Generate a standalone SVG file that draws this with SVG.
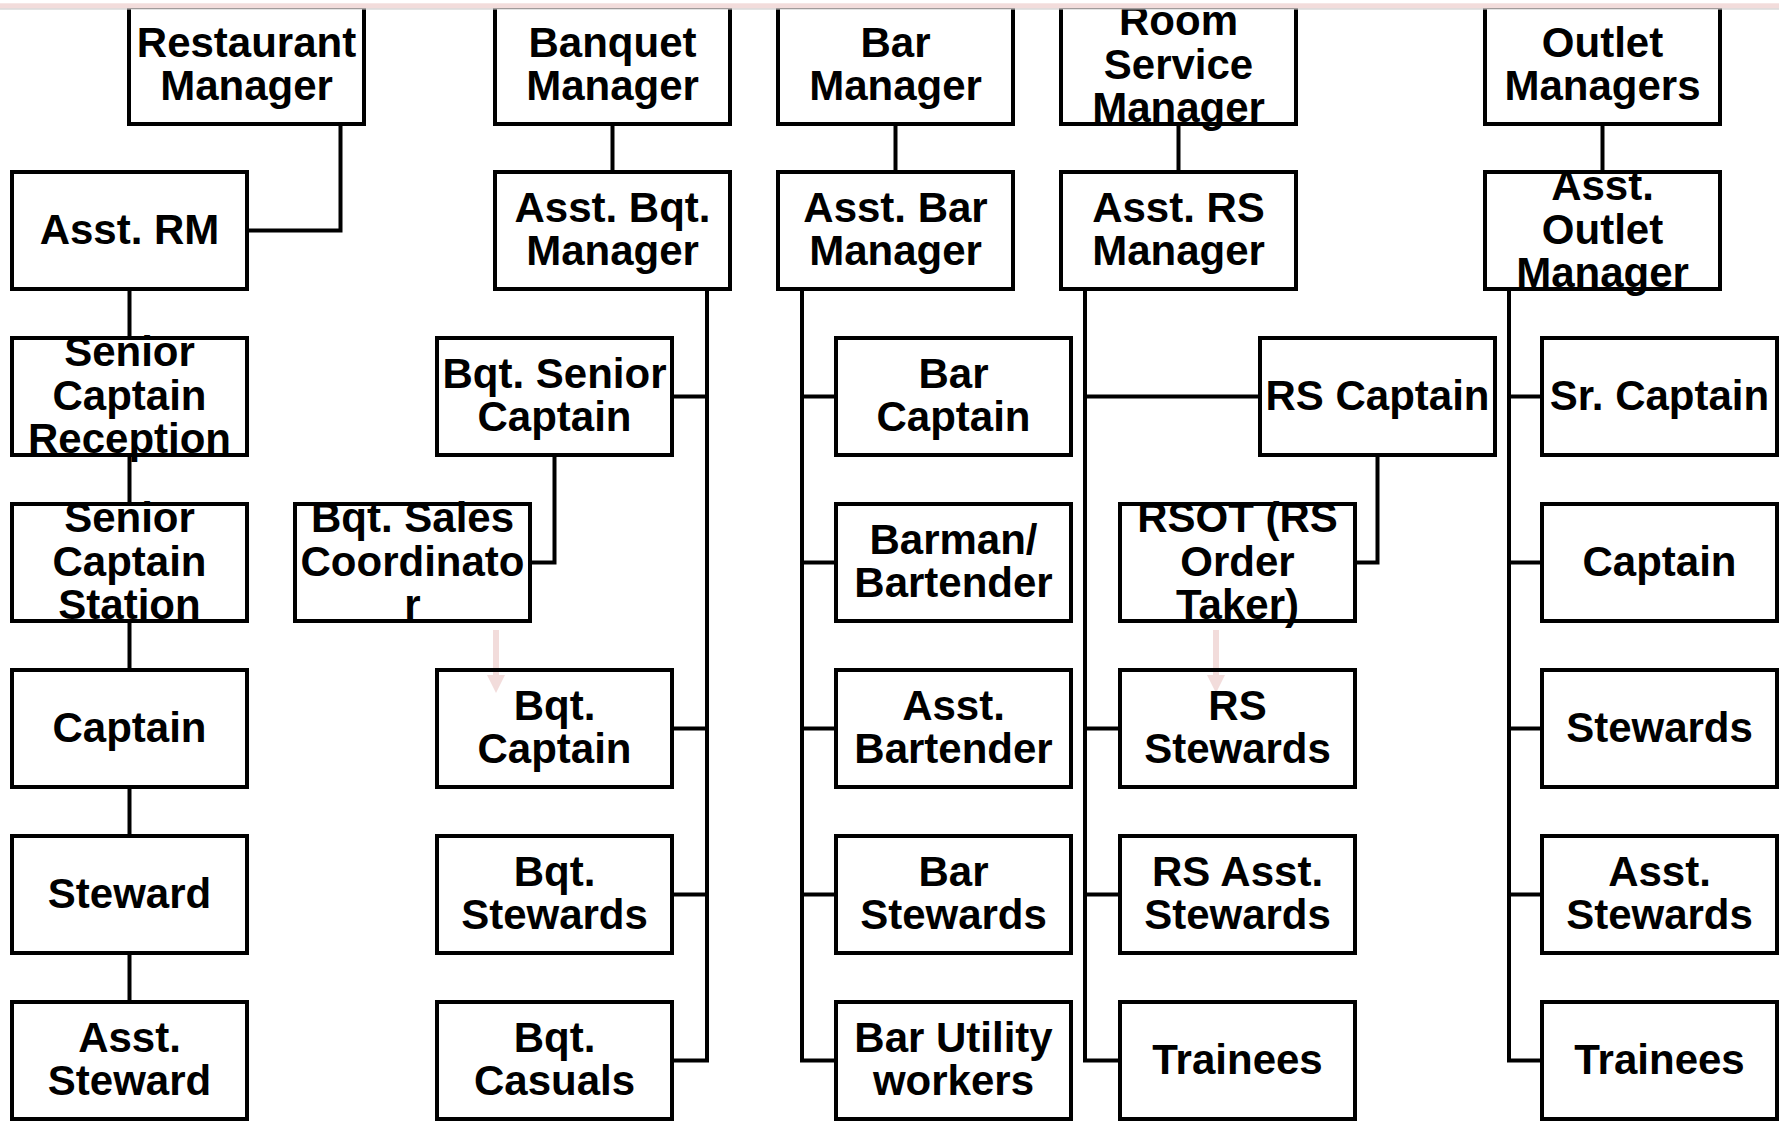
<svg xmlns="http://www.w3.org/2000/svg" width="1779" height="1122" viewBox="0 0 1779 1122">
<style>
.box{fill:none;stroke:#000;stroke-width:4;stroke-linejoin:miter}
.ln{fill:none;stroke:#000;stroke-width:4;stroke-linejoin:miter}
.t{font-family:"Liberation Sans",Arial,sans-serif;font-weight:bold;font-size:42px;fill:#000;text-anchor:middle}
.pk{fill:#f2dcdb}
</style>
<rect x="0" y="0" width="1779" height="1122" fill="#fff"/>
<g id="faint-arrows">
<rect class="pk" x="493" y="630" width="6" height="46"/>
<polygon class="pk" points="487,675 505,675 496,693"/>
<rect class="pk" x="1213" y="630" width="6" height="46"/>
<polygon class="pk" points="1207,675 1225,675 1216,693"/>
</g>
<g id="connectors">
<polyline class="ln" points="340.5,124 340.5,230.5 247,230.5"/>
<line class="ln" x1="129.5" y1="289" x2="129.5" y2="338"/>
<line class="ln" x1="129.5" y1="455" x2="129.5" y2="504"/>
<line class="ln" x1="129.5" y1="621" x2="129.5" y2="670"/>
<line class="ln" x1="129.5" y1="787" x2="129.5" y2="836"/>
<line class="ln" x1="129.5" y1="953" x2="129.5" y2="1002"/>
<line class="ln" x1="612.5" y1="124" x2="612.5" y2="172"/>
<polyline class="ln" points="707,289 707,1060.5 672,1060.5"/>
<line class="ln" x1="672" y1="396.5" x2="707" y2="396.5"/>
<line class="ln" x1="672" y1="728.5" x2="707" y2="728.5"/>
<line class="ln" x1="672" y1="894.5" x2="707" y2="894.5"/>
<polyline class="ln" points="554.5,455 554.5,562.5 530,562.5"/>
<line class="ln" x1="895.5" y1="124" x2="895.5" y2="172"/>
<polyline class="ln" points="802,289 802,1060.5 836,1060.5"/>
<line class="ln" x1="802" y1="396.5" x2="836" y2="396.5"/>
<line class="ln" x1="802" y1="562.5" x2="836" y2="562.5"/>
<line class="ln" x1="802" y1="728.5" x2="836" y2="728.5"/>
<line class="ln" x1="802" y1="894.5" x2="836" y2="894.5"/>
<line class="ln" x1="1178.5" y1="124" x2="1178.5" y2="172"/>
<polyline class="ln" points="1085,289 1085,1060.5 1120,1060.5"/>
<line class="ln" x1="1085" y1="396.5" x2="1260" y2="396.5"/>
<line class="ln" x1="1085" y1="728.5" x2="1120" y2="728.5"/>
<line class="ln" x1="1085" y1="894.5" x2="1120" y2="894.5"/>
<polyline class="ln" points="1377.5,455 1377.5,562.5 1355,562.5"/>
<line class="ln" x1="1602.5" y1="124" x2="1602.5" y2="172"/>
<polyline class="ln" points="1509,289 1509,1060.5 1542,1060.5"/>
<line class="ln" x1="1509" y1="396.5" x2="1542" y2="396.5"/>
<line class="ln" x1="1509" y1="562.5" x2="1542" y2="562.5"/>
<line class="ln" x1="1509" y1="728.5" x2="1542" y2="728.5"/>
<line class="ln" x1="1509" y1="894.5" x2="1542" y2="894.5"/>
</g>
<g id="restaurant-manager"><rect class="box" x="129" y="7" width="235" height="117"/><text class="t"><tspan x="246.5" y="56.75">Restaurant</tspan><tspan x="246.5" y="100.25">Manager</tspan></text></g>
<g id="asst-rm"><rect class="box" x="12" y="172" width="235" height="117"/><text class="t"><tspan x="129.5" y="243.5">Asst. RM</tspan></text></g>
<g id="senior-captain-reception"><rect class="box" x="12" y="338" width="235" height="117"/><text class="t"><tspan x="129.5" y="366">Senior</tspan><tspan x="129.5" y="409.5">Captain</tspan><tspan x="129.5" y="453">Reception</tspan></text></g>
<g id="senior-captain-station"><rect class="box" x="12" y="504" width="235" height="117"/><text class="t"><tspan x="129.5" y="532">Senior</tspan><tspan x="129.5" y="575.5">Captain</tspan><tspan x="129.5" y="619">Station</tspan></text></g>
<g id="captain-a"><rect class="box" x="12" y="670" width="235" height="117"/><text class="t"><tspan x="129.5" y="741.5">Captain</tspan></text></g>
<g id="steward-a"><rect class="box" x="12" y="836" width="235" height="117"/><text class="t"><tspan x="129.5" y="907.5">Steward</tspan></text></g>
<g id="asst-steward-a"><rect class="box" x="12" y="1002" width="235" height="117"/><text class="t"><tspan x="129.5" y="1051.75">Asst.</tspan><tspan x="129.5" y="1095.25">Steward</tspan></text></g>

<g id="banquet-manager"><rect class="box" x="495" y="7" width="235" height="117"/><text class="t"><tspan x="612.5" y="56.75">Banquet</tspan><tspan x="612.5" y="100.25">Manager</tspan></text></g>
<g id="asst-bqt-manager"><rect class="box" x="495" y="172" width="235" height="117"/><text class="t"><tspan x="612.5" y="221.75">Asst. Bqt.</tspan><tspan x="612.5" y="265.25">Manager</tspan></text></g>
<g id="bqt-senior-captain"><rect class="box" x="437" y="338" width="235" height="117"/><text class="t"><tspan x="554.5" y="387.75">Bqt. Senior</tspan><tspan x="554.5" y="431.25">Captain</tspan></text></g>
<g id="bqt-sales-coordinator"><rect class="box" x="295" y="504" width="235" height="117"/><text class="t"><tspan x="412.5" y="532">Bqt. Sales</tspan><tspan x="412.5" y="575.5">Coordinato</tspan><tspan x="412.5" y="619">r</tspan></text></g>
<g id="bqt-captain"><rect class="box" x="437" y="670" width="235" height="117"/><text class="t"><tspan x="554.5" y="719.75">Bqt.</tspan><tspan x="554.5" y="763.25">Captain</tspan></text></g>
<g id="bqt-stewards"><rect class="box" x="437" y="836" width="235" height="117"/><text class="t"><tspan x="554.5" y="885.75">Bqt.</tspan><tspan x="554.5" y="929.25">Stewards</tspan></text></g>
<g id="bqt-casuals"><rect class="box" x="437" y="1002" width="235" height="117"/><text class="t"><tspan x="554.5" y="1051.75">Bqt.</tspan><tspan x="554.5" y="1095.25">Casuals</tspan></text></g>

<g id="bar-manager"><rect class="box" x="778" y="7" width="235" height="117"/><text class="t"><tspan x="895.5" y="56.75">Bar</tspan><tspan x="895.5" y="100.25">Manager</tspan></text></g>
<g id="asst-bar-manager"><rect class="box" x="778" y="172" width="235" height="117"/><text class="t"><tspan x="895.5" y="221.75">Asst. Bar</tspan><tspan x="895.5" y="265.25">Manager</tspan></text></g>
<g id="bar-captain"><rect class="box" x="836" y="338" width="235" height="117"/><text class="t"><tspan x="953.5" y="387.75">Bar</tspan><tspan x="953.5" y="431.25">Captain</tspan></text></g>
<g id="barman-bartender"><rect class="box" x="836" y="504" width="235" height="117"/><text class="t"><tspan x="953.5" y="553.75">Barman/</tspan><tspan x="953.5" y="597.25">Bartender</tspan></text></g>
<g id="asst-bartender"><rect class="box" x="836" y="670" width="235" height="117"/><text class="t"><tspan x="953.5" y="719.75">Asst.</tspan><tspan x="953.5" y="763.25">Bartender</tspan></text></g>
<g id="bar-stewards"><rect class="box" x="836" y="836" width="235" height="117"/><text class="t"><tspan x="953.5" y="885.75">Bar</tspan><tspan x="953.5" y="929.25">Stewards</tspan></text></g>
<g id="bar-utility-workers"><rect class="box" x="836" y="1002" width="235" height="117"/><text class="t"><tspan x="953.5" y="1051.75">Bar Utility</tspan><tspan x="953.5" y="1095.25">workers</tspan></text></g>

<g id="room-service-manager"><rect class="box" x="1061" y="7" width="235" height="117"/><text class="t"><tspan x="1178.5" y="35">Room</tspan><tspan x="1178.5" y="78.5">Service</tspan><tspan x="1178.5" y="122">Manager</tspan></text></g>
<g id="asst-rs-manager"><rect class="box" x="1061" y="172" width="235" height="117"/><text class="t"><tspan x="1178.5" y="221.75">Asst. RS</tspan><tspan x="1178.5" y="265.25">Manager</tspan></text></g>
<g id="rs-captain"><rect class="box" x="1260" y="338" width="235" height="117"/><text class="t"><tspan x="1377.5" y="409.5">RS Captain</tspan></text></g>
<g id="rsot"><rect class="box" x="1120" y="504" width="235" height="117"/><text class="t"><tspan x="1237.5" y="532">RSOT (RS</tspan><tspan x="1237.5" y="575.5">Order</tspan><tspan x="1237.5" y="619">Taker)</tspan></text></g>
<g id="rs-stewards"><rect class="box" x="1120" y="670" width="235" height="117"/><text class="t"><tspan x="1237.5" y="719.75">RS</tspan><tspan x="1237.5" y="763.25">Stewards</tspan></text></g>
<g id="rs-asst-stewards"><rect class="box" x="1120" y="836" width="235" height="117"/><text class="t"><tspan x="1237.5" y="885.75">RS Asst.</tspan><tspan x="1237.5" y="929.25">Stewards</tspan></text></g>
<g id="trainees-d"><rect class="box" x="1120" y="1002" width="235" height="117"/><text class="t"><tspan x="1237.5" y="1073.5">Trainees</tspan></text></g>

<g id="outlet-managers"><rect class="box" x="1485" y="7" width="235" height="117"/><text class="t"><tspan x="1602.5" y="56.75">Outlet</tspan><tspan x="1602.5" y="100.25">Managers</tspan></text></g>
<g id="asst-outlet-manager"><rect class="box" x="1485" y="172" width="235" height="117"/><text class="t"><tspan x="1602.5" y="200">Asst.</tspan><tspan x="1602.5" y="243.5">Outlet</tspan><tspan x="1602.5" y="287">Manager</tspan></text></g>
<g id="sr-captain"><rect class="box" x="1542" y="338" width="235" height="117"/><text class="t"><tspan x="1659.5" y="409.5">Sr. Captain</tspan></text></g>
<g id="captain-e"><rect class="box" x="1542" y="504" width="235" height="117"/><text class="t"><tspan x="1659.5" y="575.5">Captain</tspan></text></g>
<g id="stewards-e"><rect class="box" x="1542" y="670" width="235" height="117"/><text class="t"><tspan x="1659.5" y="741.5">Stewards</tspan></text></g>
<g id="asst-stewards-e"><rect class="box" x="1542" y="836" width="235" height="117"/><text class="t"><tspan x="1659.5" y="885.75">Asst.</tspan><tspan x="1659.5" y="929.25">Stewards</tspan></text></g>
<g id="trainees-e"><rect class="box" x="1542" y="1002" width="235" height="117"/><text class="t"><tspan x="1659.5" y="1073.5">Trainees</tspan></text></g>

<rect x="0" y="0" width="1779" height="3.3" fill="#fff"/>
<rect x="0" y="3.3" width="1779" height="5.2" class="pk"/>
<line x1="0" y1="9" x2="1779" y2="9" stroke="#c8c8c8" stroke-width="1"/>
</svg>
